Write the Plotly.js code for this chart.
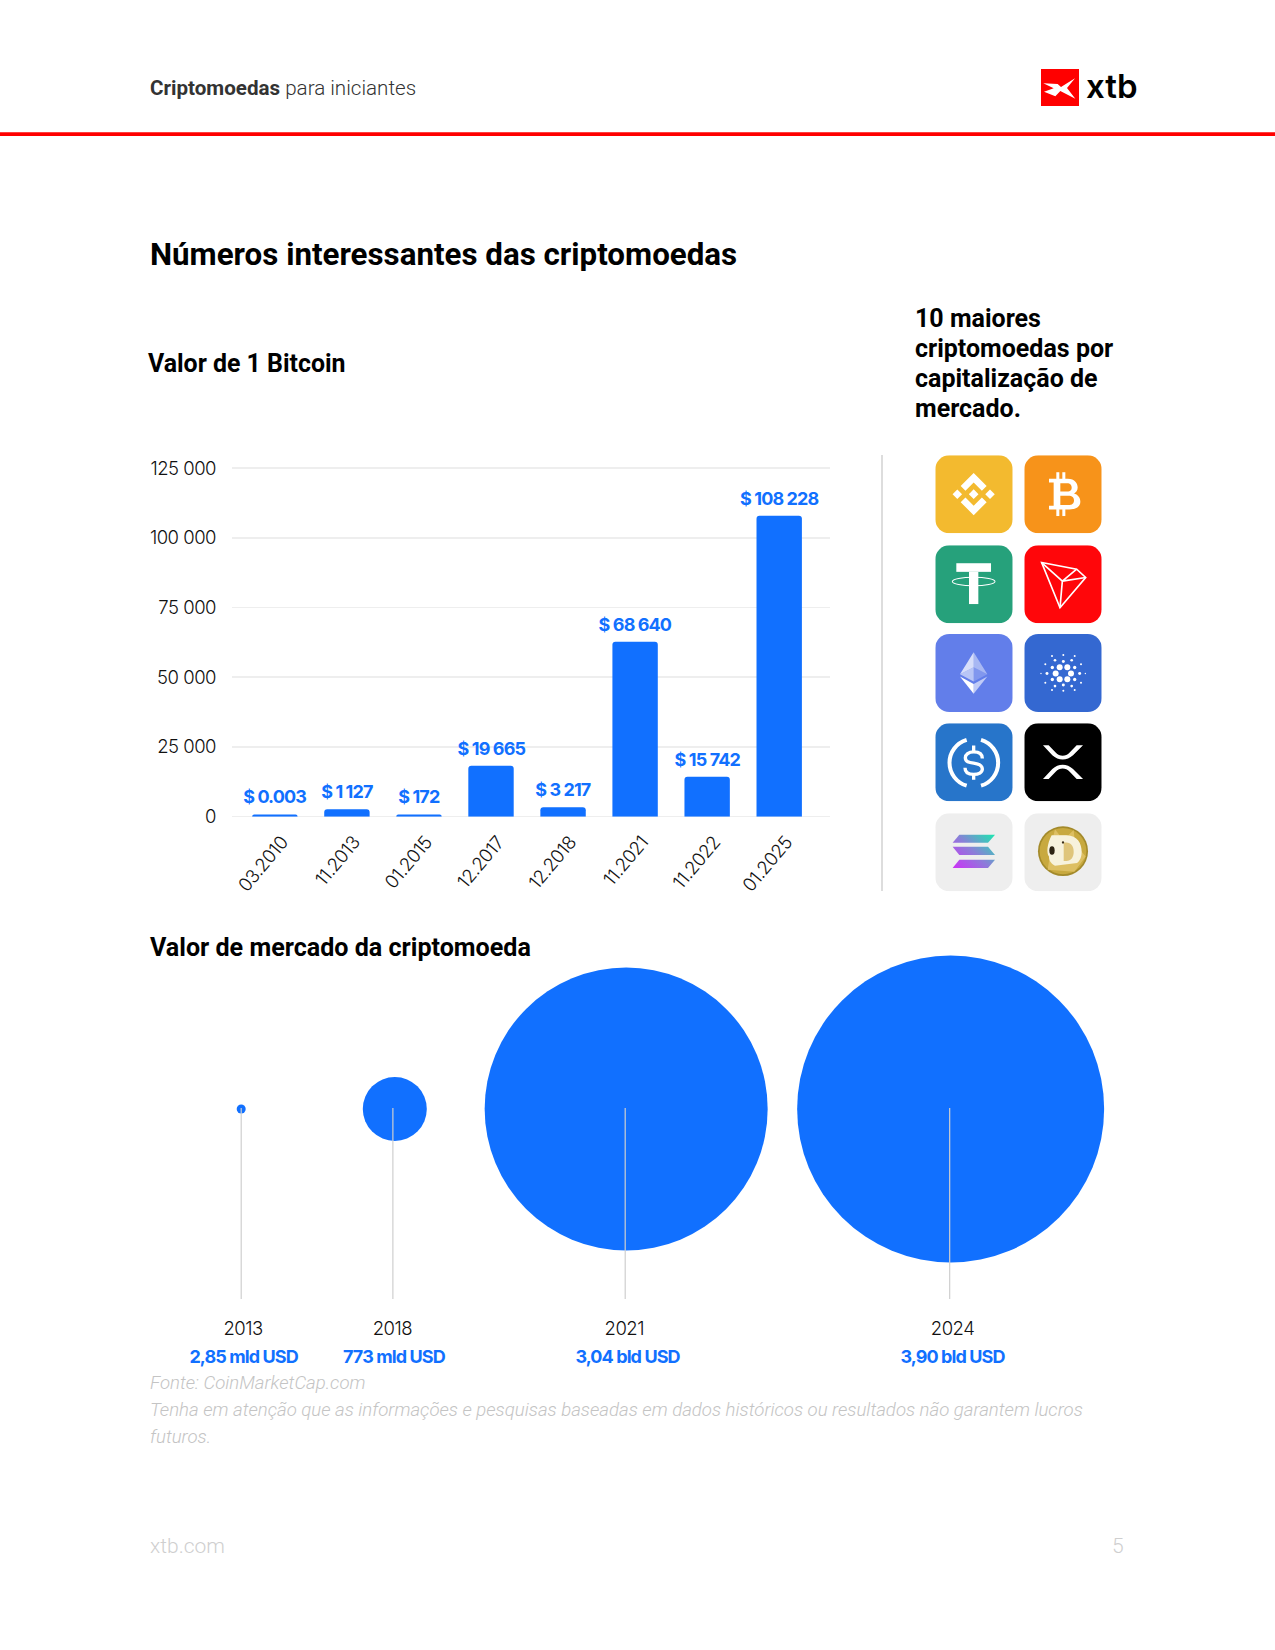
<!DOCTYPE html>
<html><head><meta charset="utf-8">
<script src="https://cdn.plot.ly/plotly-3.0.1.min.js"></script>
<style>
html,body{margin:0;padding:0;background:#fff}
#chart{width:1275px;height:1650px}
.xtick text,.ytick text,.x2tick text{letter-spacing:-0.5px}
.annotation text[style*="17, 112, 255"]{letter-spacing:-0.9px}
</style></head><body><div id="chart"></div>
<script>
// ---- Bitcoin bars
const priceDates = ['03.2010','11.2013','01.2015','12.2017','12.2018','11.2021','11.2022','01.2025'];
const barValues = [800,2650,800,18300,3350,62700,14350,107900];
const priceLabels = ['$ 0.003','$ 1 127','$ 172','$ 19 665','$ 3 217','$ 68 640','$ 15 742','$ 108 228'];
const yTickValues = [0,25000,50000,75000,100000,125000];
const yTickLabels = ['0','25 000','50 000','75 000','100 000','125 000'];
// ---- Market cap bubbles
const capYears = ['2013','2018','2021','2024'];
const capLabels = ['2,85 mld USD','773 mld USD','3,04 bld USD','3,90 bld USD'];
const capDiameters = [9,64,283,307];
const capSlots = [9.5,25.5,49.6,83.4];
const stemSlots = [9.5,25.3,49.5,83.3];
const yearLabelSlots = [9.7,25.25,49.4,83.6];
const valueLabelSlots = [9.7,25.4,49.7,83.6];

const W=1275,H=1650,BLUE='#1170FF';
const px=x=>x/W, py=y=>1-y/H;
const txt=(text,x,y,size,color,family,extra)=>Object.assign({text,xref:'paper',yref:'paper',x:px(x-2),y:py(y),
  xanchor:'left',yanchor:'middle',showarrow:false,align:'left',
  font:Object.assign({family,size,color},(extra&&extra.weight)?{weight:extra.weight}:{})},{});
const R='Roboto, sans-serif', I='Inter, sans-serif';

// ---- Icons (decorative logos)
function tile(bg,inner,defs){
  return 'data:image/svg+xml,'+encodeURIComponent(
   `<svg xmlns="http://www.w3.org/2000/svg" width="232" height="235" viewBox="0 0 232 235"><defs>${defs||''}</defs>`+
   `<rect width="232" height="235" rx="42" ry="42" fill="${bg}"/>${inner}</svg>`);
}
const dots=(arr,ox,oy)=>arr.map(d=>`<circle cx="${d[0]-ox}" cy="${d[1]-oy}" r="${d[2]}" fill="#fff"/>`).join('');
const iconBNB=tile('#F3BA2F',`<g transform="translate(51.7,53.7)" fill="#fff"><path d="M38.73 53.2l24.59-24.58 24.6 24.6 14.3-14.31L63.32 0 24.43 38.9l14.3 14.3z"/><path d="M0 63.31l14.3-14.31 14.31 14.31-14.31 14.3z"/><path d="M38.73 73.41l24.59 24.59 24.6-24.6 14.31 14.29-38.9 38.91-38.91-38.88v-.03l14.31-14.28z"/><path d="M97.99 63.31l14.3-14.3 14.32 14.3-14.31 14.3z"/><path d="M77.83 63.3L63.32 48.78 52.59 59.51l-1.24 1.23-2.54 2.54v.03l14.51 14.5 14.51-14.51.01-.01z"/></g>`);
const iconBTC=tile('#F7931A',`<g fill="#fff"><path fill-rule="evenodd" d="M74 71H130C152 71 160 86 160 97C160 106 155 112 149 115C160 118 168 127 168 140C168 155 155 163 135 163H74V152H88V82H74Z M108 84V109H128C140 109 142 103 142 97C142 90 138 84 128 84Z M108 122V150H132C144 150 149 144 149 136C149 128 144 122 132 122Z"/><rect x="96" y="51" width="9" height="22"/><rect x="114" y="51" width="9" height="22"/><rect x="96" y="162" width="9" height="21"/><rect x="114" y="162" width="9" height="21"/></g>`);
const iconUSDT=tile('#26A17B',`<g fill="#fff"><rect x="63" y="54" width="104" height="26"/><rect x="101" y="80" width="28" height="97"/></g><ellipse cx="115" cy="109" rx="64" ry="13" fill="none" stroke="#fff" stroke-width="3"/>`);
const iconTRX=tile('#FF060A',`<g fill="none" stroke="#fff" stroke-width="5" stroke-linejoin="miter"><path d="M52 52L157 72L184 97L107 188Z"/><path d="M52 52L114 108L107 188M114 108L157 72M114 108L184 97"/></g>`);
const iconETH=tile('#627EEA',`<g fill="#fff"><path d="M115 55L74 121L115 100Z" fill-opacity=".75"/><path d="M115 55L156 121L115 100Z" fill-opacity=".45"/><path d="M74 121L115 100L115 143Z" fill-opacity=".55"/><path d="M156 121L115 100L115 143Z" fill-opacity=".2"/><path d="M74 128L115 180L115 151Z"/><path d="M156 128L115 180L115 151Z" fill-opacity=".6"/></g>`);
const iconADA=tile('#3468D1',dots([[404,127,9],[427,127,9],[392,146,9],[438,146,9],[404,163,9],[427,163,9],
 [382,128,5],[449,128,5],[366,146,4.5],[464,146,4.5],[382,164,5],[449,164,5],[415,110,4.5],[415,181,4.5],
 [390,106,4],[440,106,4],[390,184,4],[440,184,4],[415,90,3],[415,198,3],[381,93,3],[449,93,3],[381,196,3],[449,196,3],
 [361,118,3],[468,118,3],[361,174,3],[468,174,3],[348,146,2],[481,146,2]],298,27));
const iconUSDC=tile('#2775CA',`<g fill="none" stroke="#fff"><path stroke-width="12" d="M94 50A72 72 0 0 0 94 188"/><path stroke-width="12" d="M137 50A72 72 0 0 1 137 188"/><path stroke-width="10" d="M141 106C141 92 130 86 115 86C100 86 90 94 90 104C90 116 101 118 115 120C130 122 141 126 141 138C141 148 130 154 115 154C100 154 89 148 89 134"/><path stroke-width="10" d="M115 67V86M115 154V170"/></g>`);
const iconXRP=tile('#000000',`<g fill="#fff"><path d="M56 66H73L94 88C106 101 124 101 136 88L157 66H176L146 96C128 113 102 113 84 96Z"/><path d="M56 168H73L94 146C106 133 124 133 136 146L157 168H176L146 138C128 121 102 121 84 138Z"/></g>`);
const iconSOL=tile('#EEEEEE',`<g fill="url(#s)"><path d="M52 89L72 65H179L158 89Z"/><path d="M52 101H158L179 126H72Z"/><path d="M52 165L72 140H179L158 165Z"/></g>`,
 `<linearGradient id="s" gradientUnits="userSpaceOnUse" x1="60" y1="175" x2="170" y2="55"><stop offset="0" stop-color="#D02DF8"/><stop offset=".5" stop-color="#8A7FD8"/><stop offset="1" stop-color="#19E9AE"/></linearGradient>`);
const iconDOGE=tile('#EEEEEE',`<circle cx="116" cy="114" r="75" fill="#A38A2B"/><circle cx="116" cy="114" r="70" fill="#C8A93F"/>
 <path d="M70 170L150 176L184 130L152 92L148 50L132 66L106 66L92 48L84 80Z" fill="#DDBF62"/>
 <path d="M82 66H126C160 66 172 92 172 116C172 132 166 144 158 150L92 158C78 150 74 140 74 130C66 120 68 92 82 66Z" fill="#F7F2DC"/>
 <path d="M118 88H126C140 88 148 100 148 116C148 132 140 144 126 144H118Z" fill="#DFC57A"/>
 <ellipse cx="83" cy="112" rx="8" ry="13" fill="#2E2412"/><circle cx="116" cy="88" r="3.5" fill="#3A2E18"/>`);
const logoMark='data:image/svg+xml,'+encodeURIComponent(`<svg xmlns="http://www.w3.org/2000/svg" width="114" height="111" viewBox="0 0 114 111"><rect width="114" height="111" fill="#FF0000"/><path d="M7 43L50 45L60 54L102 28L78 57L103 89L58 66L43 82L9 68L38 58Z" fill="#fff"/></svg>`);

const iconGrid=[[iconBNB,iconBTC],[iconUSDT,iconTRX],[iconETH,iconADA],[iconUSDC,iconXRP],[iconSOL,iconDOGE]];
const rowTops=[455.3,545.3,634,723.3,813.3], colLefts=[935.3,1024.3];
const images=[{source:logoMark,xref:'paper',yref:'paper',x:px(1041),y:py(69),sizex:38/W,sizey:37/H,xanchor:'left',yanchor:'top',sizing:'stretch',layer:'above'}];
iconGrid.forEach((row,r)=>row.forEach((src,c)=>images.push({source:src,xref:'paper',yref:'paper',x:px(colLefts[c]),y:py(rowTops[r]),sizex:77.4/W,sizey:78/H,xanchor:'left',yanchor:'top',sizing:'stretch',layer:'above'})));

// ---- Traces
const bars={type:'bar',x:priceDates,y:barValues,xaxis:'x',yaxis:'y',width:0.63,marker:{color:BLUE,line:{width:0},cornerradius:3},hoverinfo:'skip'};
const stemsX=[],stemsY=[];
stemSlots.forEach(s=>{stemsX.push(s,s,null);stemsY.push(0,1,null);});
const bubbles={type:'scatter',mode:'markers',x:capSlots,y:capYears.map(()=>0.995),xaxis:'x2',yaxis:'y2',cliponaxis:false,
  marker:{size:capDiameters,sizemode:'diameter',sizeref:1,color:BLUE,opacity:1,line:{width:0}},hoverinfo:'skip'};
const stems={type:'scatter',mode:'lines',x:stemsX,y:stemsY,xaxis:'x2',yaxis:'y2',cliponaxis:false,line:{color:'#CFCFCF',width:1.2},hoverinfo:'skip'};

// ---- Annotations
const ann=[
 txt('<b>Criptomoedas</b> para iniciantes',150,88,20.6,'#333',R,{weight:300}),
 txt('xtb',1086,86,33,'#000',I,{weight:600}),
 txt('<b>Números interessantes das criptomoedas</b>',150,254,31.3,'#000',R),
 txt('<b>Valor de 1 Bitcoin</b>',148,364,24.9,'#000',R),
 txt('<b>10 maiores</b>',915,318,25,'#000',R),
 txt('<b>criptomoedas por</b>',915,348,25,'#000',R),
 txt('<b>capitalização de</b>',915,378,25,'#000',R),
 txt('<b>mercado.</b>',915,408,25,'#000',R),
 txt('<b>Valor de mercado da criptomoeda</b>',150,947,25.1,'#000',R),
 txt('<i>Fonte: CoinMarketCap.com</i>',150,1383,18.6,'#C4C4C4',R,{weight:300}),
 txt('<i>Tenha em atenção que as informações e pesquisas baseadas em dados históricos ou resultados não garantem lucros</i>',150,1410,18.6,'#C4C4C4',R,{weight:300}),
 txt('<i>futuros.</i>',150,1437,18.6,'#C4C4C4',R,{weight:300}),
 txt('xtb.com',150,1546,21,'#CFCFCF',R,{weight:300}),
 txt('5',1112,1546,21,'#CFCFCF',R,{weight:300}),
];
priceDates.forEach((d,i)=>ann.push({xref:'x',yref:'y',x:i,y:barValues[i],text:'<b>'+priceLabels[i]+'</b>',showarrow:false,yanchor:'bottom',yshift:5,font:{family:I,size:18,color:BLUE,weight:600}}));
capLabels.forEach((t,i)=>ann.push({xref:'x2',yref:'paper',x:valueLabelSlots[i],y:py(1356),text:'<b>'+t+'</b>',showarrow:false,yanchor:'middle',font:{family:I,size:18,color:BLUE}}));

const layout={
 width:W,height:H,margin:{l:0,r:0,t:0,b:0},paper_bgcolor:'#fff',plot_bgcolor:'rgba(0,0,0,0)',showlegend:false,
 xaxis:{domain:[px(232),px(830)],type:'category',categoryorder:'array',categoryarray:priceDates,range:[-0.595,7.705],
   tickangle:-50,tickfont:{family:I,size:18.5,color:'#111',weight:300},ticks:'',showgrid:false,zeroline:false,showline:false,automargin:false,ticklabelstandoff:10,ticklabelshift:7,fixedrange:true},
 yaxis:{domain:[py(816.7),py(464.7)],range:[0,126200],tickvals:yTickValues,ticktext:yTickLabels,tickfont:{family:I,size:18.5,color:'#111',weight:300},ticks:'',
   showgrid:true,gridcolor:'#EEEEEE',gridwidth:1.5,zeroline:true,zerolinecolor:'#EEEEEE',zerolinewidth:1.5,showline:false,automargin:false,ticklabelstandoff:15,fixedrange:true},
 xaxis2:{domain:[px(150),px(1110)],range:[0,100],anchor:'y2',tickvals:yearLabelSlots,ticktext:capYears,tickfont:{family:I,size:18.5,color:'#111',weight:300},ticks:'',
   showgrid:false,zeroline:false,showline:false,automargin:false,ticklabelstandoff:16,fixedrange:true},
 yaxis2:{domain:[py(1299),py(1108)],range:[0,1],anchor:'x2',visible:false,fixedrange:true},
 shapes:[
  {type:'rect',xref:'paper',yref:'paper',x0:0,x1:1,y0:py(136),y1:py(132.2),fillcolor:'#FF0000',line:{width:0}},
  {type:'line',xref:'paper',yref:'paper',x0:px(882),x1:px(882),y0:py(455),y1:py(891),line:{color:'#DDDDDD',width:2}}
 ],
 images,annotations:ann
};
Plotly.newPlot('chart',[bars,bubbles,stems],layout,{displayModeBar:false,staticPlot:true});
</script></body></html>
